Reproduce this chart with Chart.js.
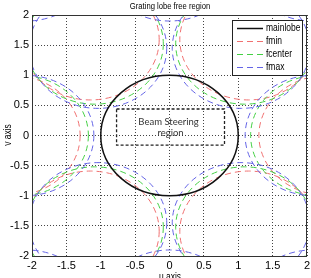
<!DOCTYPE html>
<html>
<head>
<meta charset="utf-8">
<script src="https://cdn.jsdelivr.net/npm/chart.js@4.4.0/dist/chart.umd.min.js"></script>
<style>
    html, body { margin: 0; padding: 0; background: #fff; }
    #wrap { width: 311px; height: 278px; }
</style>
</head>
<body>
<div id="wrap"><canvas id="lobeChart" width="311" height="278"></canvas></div>
<script>
// u and v axes share the same ticks
const tickValues = [-2, -1.5, -1, -0.5, 0, 0.5, 1, 1.5, 2];

const seriesNames = ['mainlobe', 'fmin', 'fcenter', 'fmax'];
const lobeRadius = 1;

// main lobe centre
const mainU = [0];
const mainV = [0];

// grating lobe circle centres (u, v) for each frequency
const fminU = [-2.3, 2.3, -1.15, 1.15, -1.15, 1.15, 0, 0, -2.3, 2.3, -2.3, 2.3];
const fminV = [0, 0, 1.59, 1.59, -1.59, -1.59, 3.18, -3.18, 3.18, 3.18, -3.18, -3.18];
const fcenterU = [-2.18, 2.18, -1.09, 1.09, -1.09, 1.09, 0, 0, -2.18, 2.18, -2.18, 2.18];
const fcenterV = [0, 0, 1.52, 1.52, -1.52, -1.52, 3.04, -3.04, 3.04, 3.04, -3.04, -3.04];
const fmaxU = [-2.1, 2.1, -1.04, 1.04, -1.04, 1.04, 0, 0, -2.08, 2.08, -2.08, 2.08];
const fmaxV = [0, 0, 1.45, 1.45, -1.45, -1.45, 2.9, -2.9, 2.9, 2.9, -2.9, -2.9];

// beam steering box: u from / to, v from / to
const steerU = [-0.77, 0.8];
const steerV = [-0.16, 0.44];

const narrow = "'Liberation Sans', Arial, sans-serif";

function toPoints(us, vs) {
    return us.map(function(u, i) { return { x: u, y: vs[i] }; });
}

// squeezed text, the original uses a condensed face
function narrowText(ctx, text, x, y, squeeze) {
    ctx.save();
    ctx.translate(x, y);
    ctx.scale(squeeze, 1);
    ctx.fillText(text, 0, 0);
    ctx.restore();
}

// draws every dataset point as the centre of a circle of radius lobeRadius
const circlePlugin = {
    id: 'circles',
    afterDatasetsDraw(chart) {
        const ctx = chart.ctx;
        const area = chart.chartArea;
        const xs = chart.scales.x;
        const ys = chart.scales.y;
        ctx.save();
        ctx.beginPath();
        ctx.rect(area.left, area.top, area.right - area.left, area.bottom - area.top);
        ctx.clip();
        // lobes first, main lobe on top
        const order = [1, 2, 3, 0];
        order.forEach(function(k) {
            const ds = chart.data.datasets[k];
            ctx.strokeStyle = ds.borderColor;
            ctx.lineWidth = ds.borderWidth;
            ctx.setLineDash(ds.borderDash || []);
            ds.data.forEach(function(p) {
                const cx = xs.getPixelForValue(p.x);
                const cy = ys.getPixelForValue(p.y);
                const rx = Math.abs(xs.getPixelForValue(p.x + lobeRadius) - cx);
                const ry = Math.abs(ys.getPixelForValue(p.y + lobeRadius) - cy);
                ctx.beginPath();
                ctx.ellipse(cx, cy, rx, ry, 0, 0, Math.PI * 2);
                ctx.stroke();
            });
        });
        ctx.restore();
    },
    afterDraw(chart) {
        const ctx = chart.ctx;
        const area = chart.chartArea;
        const xs = chart.scales.x;
        const ys = chart.scales.y;
        ctx.save();

        // beam steering box
        const bx1 = xs.getPixelForValue(steerU[0]);
        const bx2 = xs.getPixelForValue(steerU[1]);
        const by1 = ys.getPixelForValue(steerV[1]);
        const by2 = ys.getPixelForValue(steerV[0]);
        ctx.strokeStyle = '#222';
        ctx.lineWidth = 1.3;
        ctx.setLineDash([3, 2]);
        ctx.strokeRect(bx1, by1, bx2 - bx1, by2 - by1);
        ctx.setLineDash([]);
        ctx.fillStyle = '#333';
        ctx.font = "9.5px Lato, 'Open Sans', sans-serif";
        ctx.textAlign = 'center';
        ctx.textBaseline = 'middle';
        ctx.fillText('Beam Steering', (bx1 + bx2) / 2 - 2, by1 + 13);
        ctx.fillText('region', (bx1 + bx2) / 2, by1 + 24);

        // frame
        ctx.strokeStyle = '#333';
        ctx.lineWidth = 1;
        ctx.strokeRect(area.left + 0.5, area.top + 0.5, area.right - area.left - 1, area.bottom - area.top);

        // legend
        const lx = 232, ly = 20, lw = 70, lh = 55;
        ctx.fillStyle = '#fff';
        ctx.fillRect(lx, ly, lw, lh);
        ctx.strokeStyle = '#222';
        ctx.strokeRect(lx + 0.5, ly + 0.5, lw, lh);
        ctx.font = '10px ' + narrow;
        ctx.textAlign = 'left';
        chart.data.datasets.forEach(function(ds, i) {
            const yy = 28.5 + i * 13;
            ctx.strokeStyle = ds.borderColor;
            ctx.lineWidth = ds.borderWidth;
            ctx.setLineDash(ds.borderDash || []);
            ctx.beginPath();
            ctx.moveTo(237, yy);
            ctx.lineTo(263, yy);
            ctx.stroke();
            ctx.setLineDash([]);
            ctx.fillStyle = '#000';
            narrowText(ctx, ds.label, 266, yy, 0.85);
        });

        // title and axis labels
        ctx.fillStyle = '#000';
        ctx.font = '9px ' + narrow;
        ctx.textAlign = 'center';
        narrowText(ctx, 'Grating lobe free region', 170, 7, 0.85);
        ctx.font = '10px ' + narrow;
        narrowText(ctx, 'u axis', 170, 277, 0.85);
        ctx.translate(8, 135);
        ctx.rotate(-Math.PI / 2);
        narrowText(ctx, 'v axis', 0, 0, 0.85);
        ctx.restore();
    }
};

const axisTicks = {
    font: { family: narrow, size: 11 },
    color: '#000',
    padding: 3,
    maxRotation: 0,
    callback: function(v) { return String(v); }
};

new Chart(document.getElementById('lobeChart'), {
    type: 'scatter',
    data: {
        datasets: [
            { label: seriesNames[0], data: toPoints(mainU, mainV), borderColor: '#111', borderWidth: 1.5, borderDash: [], pointRadius: 0 },
            { label: seriesNames[1], data: toPoints(fminU, fminV), borderColor: '#f07070', borderWidth: 1, borderDash: [6, 4], pointRadius: 0 },
            { label: seriesNames[2], data: toPoints(fcenterU, fcenterV), borderColor: '#44d044', borderWidth: 1, borderDash: [6, 4], pointRadius: 0 },
            { label: seriesNames[3], data: toPoints(fmaxU, fmaxV), borderColor: '#6464e6', borderWidth: 1, borderDash: [6, 4], pointRadius: 0 }
        ]
    },
    options: {
        responsive: false,
        devicePixelRatio: 1,
        animation: false,
        layout: { padding: { top: 15, right: 4, left: 0, bottom: 0 } },
        scales: {
            x: {
                type: 'linear',
                min: -2,
                max: 2,
                afterBuildTicks: function(scale) {
                    scale.ticks = tickValues.map(function(v) { return { value: v }; });
                },
                afterFit: function(scale) {
                    scale.height = 22;
                    scale.paddingLeft = 0;
                    scale.paddingRight = 0;
                },
                ticks: axisTicks,
                grid: { color: '#444', lineWidth: 1, drawTicks: false },
                border: { display: false, dash: [1, 2] }
            },
            y: {
                type: 'linear',
                min: -2,
                max: 2,
                afterBuildTicks: function(scale) {
                    scale.ticks = tickValues.map(function(v) { return { value: v }; });
                },
                afterFit: function(scale) {
                    scale.width = 32;
                    scale.paddingTop = 0;
                    scale.paddingBottom = 0;
                },
                ticks: axisTicks,
                grid: { color: '#444', lineWidth: 1, drawTicks: false },
                border: { display: false, dash: [1, 2] }
            }
        },
        plugins: {
            legend: { display: false },
            tooltip: { enabled: false }
        }
    },
    plugins: [circlePlugin]
});
</script>
</body>
</html>
